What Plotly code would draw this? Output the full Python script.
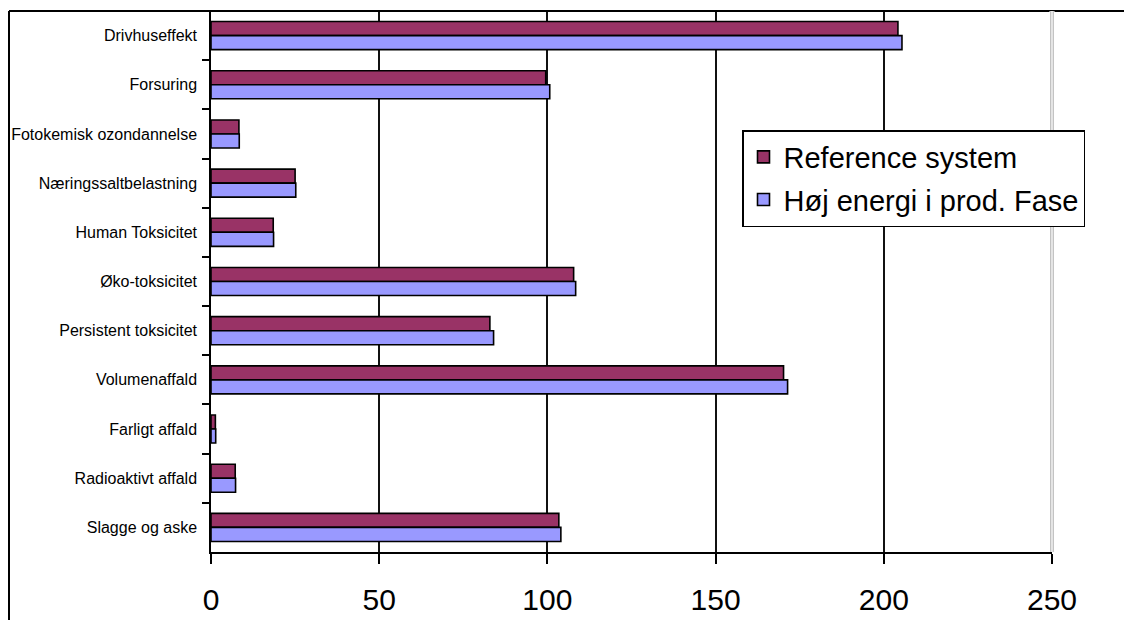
import plotly.graph_objects as go

categories = [
    "Drivhuseffekt",
    "Forsuring",
    "Fotokemisk ozondannelse",
    "Næringssaltbelastning",
    "Human Toksicitet",
    "Øko-toksicitet",
    "Persistent toksicitet",
    "Volumenaffald",
    "Farligt affald",
    "Radioaktivt affald",
    "Slagge og aske",
]
reference_system = [204.2, 99.5, 8.3, 25.0, 18.5, 107.8, 82.9, 170.2, 1.3, 7.2, 103.4]
hoej_energi = [205.4, 100.7, 8.4, 25.2, 18.6, 108.4, 84.0, 171.4, 1.4, 7.3, 104.0]
series_names = ["Reference system", "Høj energi i prod. Fase"]
x_ticks = [0, 50, 100, 150, 200, 250]

FONT = "Liberation Sans, Arial, sans-serif"

fig = go.Figure()
fig.add_trace(go.Bar(
    y=categories, x=reference_system, orientation="h", name=series_names[0],
    marker=dict(color="#993366", line=dict(color="black", width=1.6)),
    legendgroup="a",
))
fig.add_trace(go.Bar(
    y=categories, x=hoej_energi, orientation="h", name=series_names[1],
    marker=dict(color="#9999FF", line=dict(color="black", width=1.6)),
    legendgroup="b",
))

# page body has an 8px offset; target plot area: x 211..1052, y 11..552 on screen
OFF = 8
W, H = 1132 - OFF, 620 - OFF
L, T = 211 - OFF, 11 - OFF
R = W - (1052 - OFF)
B = H - (552 - OFF)
pw = W - L - R
ph = H - T - B

fig.update_layout(
    width=W, height=H,
    margin=dict(l=L, r=R, t=T, b=B, pad=0),
    paper_bgcolor="white", plot_bgcolor="white",
    barmode="group", bargap=0.43, bargroupgap=0,
    font=dict(family=FONT, color="black"),
    showlegend=True,
    legend=dict(
        x=(742 - 211) / pw, y=(552 - 130) / ph, xanchor="left", yanchor="top",
        bordercolor="black", borderwidth=1.5, bgcolor="white",
        font=dict(size=29, family=FONT, color="black"),
        tracegroupgap=2,
    ),
    xaxis=dict(
        range=[0, 250], tickvals=x_ticks, ticktext=[str(v) for v in x_ticks],
        showgrid=True, gridcolor="#111", gridwidth=1.5,
        showline=True, linecolor="black", linewidth=1.5,
        ticks="outside", ticklen=10, tickcolor="black", tickwidth=1.5,
        tickfont=dict(size=30, family=FONT, color="black"),
        ticklabelstandoff=10,
        zeroline=False, fixedrange=True,
    ),
    yaxis=dict(
        autorange="reversed", categoryorder="array", categoryarray=categories,
        showline=True, linecolor="black", linewidth=1.5,
        ticks="outside", ticklen=7, tickcolor="black", tickwidth=1.5,
        tickson="boundaries",
        ticklabelstandoff=9,
        tickfont=dict(size=16, family=FONT, color="black"),
        showgrid=False, zeroline=False,
    ),
)

# outer chart border (left and top)
lx = (9 - 211) / pw
fig.add_shape(type="line", xref="paper", yref="paper", x0=lx, x1=lx, y0=1, y1=-0.3,
              line=dict(color="black", width=2))
fig.add_shape(type="line", xref="paper", yref="paper", x0=lx, x1=1.2, y0=1, y1=1,
              line=dict(color="black", width=2))
# plot-area right edge: light gray double line
fig.add_shape(type="line", xref="paper", yref="paper", x0=1, x1=1, y0=0, y1=1,
              line=dict(color="white", width=5), layer="above")
for dx in (-1.2 / pw, 1.2 / pw):
    fig.add_shape(type="line", xref="paper", yref="paper", x0=1 + dx, x1=1 + dx, y0=0, y1=1,
                  line=dict(color="#A8A8A8", width=1), layer="above")

fig.write_html("out.html")
